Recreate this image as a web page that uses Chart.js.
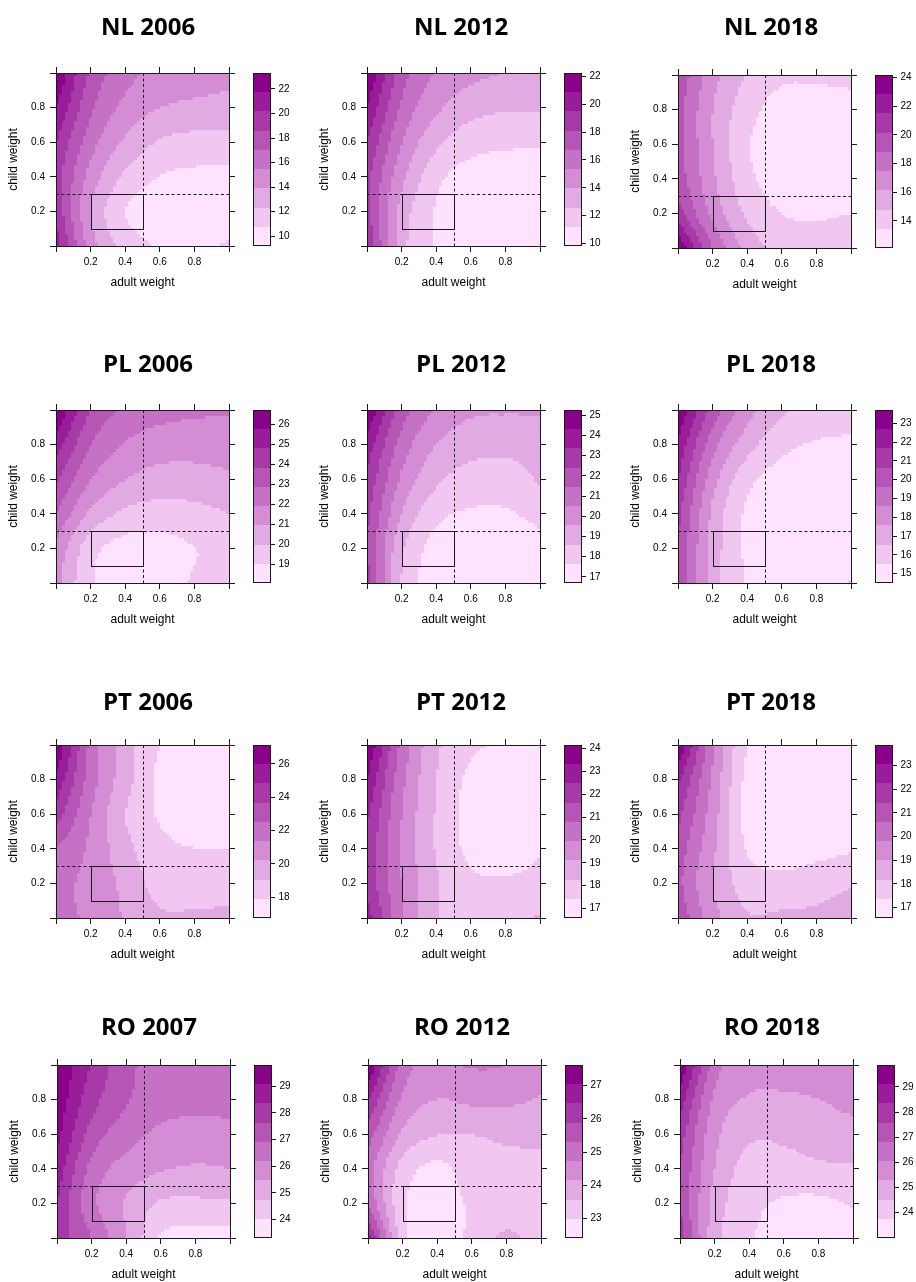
<!DOCTYPE html>
<html>
<head>
<meta charset="utf-8">
<script src="https://cdn.jsdelivr.net/npm/chart.js@4.4.1/dist/chart.umd.min.js"></script>
<style>
  html, body { margin: 0; padding: 0; background: #ffffff; overflow: hidden; width: 916px; height: 1282px; }
  canvas { position: absolute; }
</style>
</head>
<body>
<script>
// Weight grid shared by every surface: adult weight (x) and child weight (y)
const weightGrid = [0, 0.2, 0.4, 0.6, 0.8, 1.0];
const axisTicks = [0, 0.2, 0.4, 0.6, 0.8, 1.0];
const axisTickLabels = ['', '0.2', '0.4', '0.6', '0.8', ''];

// Reference cut-offs drawn on every panel
const cutAdult = 0.5;
const cutChild = 0.3;
const boxAdult = [0.2, 0.5];
const boxChild = [0.1, 0.3];

const panelTitles = ['NL 2006', 'NL 2012', 'NL 2018', 'PL 2006', 'PL 2012', 'PL 2018',
                     'PT 2006', 'PT 2012', 'PT 2018', 'RO 2007', 'RO 2012', 'RO 2018'];

// Surface values, one row per child weight (0 .. 1), columns by adult weight (0 .. 1)
const zNL2006 = [
  [20.96, 14.69, 11.72, 10.62, 10.15, 11.09],
  [19.86, 13.91, 10.78,  9.84,  9.52,  9.68],
  [19.39, 14.85, 12.03, 10.78, 10.46, 10.46],
  [20.17, 16.10, 13.59, 12.19, 11.72, 11.72],
  [21.74, 17.35, 15.00, 13.91, 13.59, 13.44],
  [23.30, 18.29, 16.10, 15.00, 14.53, 14.22]
];
const zNL2012 = [
  [19.48, 13.14, 11.07, 10.38, 10.11, 10.11],
  [18.52, 13.42, 11.07, 10.24,  9.97,  9.97],
  [18.52, 14.38, 11.62, 10.66, 10.38, 10.38],
  [19.48, 15.35, 12.86, 11.76, 11.48, 11.35],
  [20.86, 16.45, 14.24, 13.14, 12.73, 12.73],
  [22.24, 17.41, 15.21, 14.38, 13.97, 13.83]
];
const zNL2018 = [
  [24.19, 18.82, 15.73, 14.25, 13.98, 13.98],
  [20.83, 17.07, 14.52, 13.44, 13.31, 13.44],
  [19.62, 16.40, 13.85, 12.77, 12.64, 12.77],
  [19.35, 16.13, 13.58, 12.50, 12.37, 12.50],
  [19.35, 16.13, 13.98, 12.91, 12.77, 12.91],
  [19.89, 16.67, 14.65, 13.71, 13.71, 13.85]
];
const zPL2006 = [
  [21.24, 19.12, 18.45, 18.54, 19.12, 19.51],
  [21.72, 19.41, 18.64, 18.64, 19.02, 19.31],
  [22.88, 20.76, 19.80, 19.60, 19.70, 19.99],
  [24.04, 21.92, 20.95, 20.57, 20.57, 20.76],
  [25.29, 22.88, 21.82, 21.43, 21.34, 21.43],
  [26.74, 23.84, 22.69, 22.30, 22.11, 22.01]
];
const zPL2012 = [
  [22.88, 18.51, 17.18, 16.89, 16.89, 16.99],
  [22.41, 18.79, 17.27, 16.99, 16.99, 17.37],
  [22.69, 19.55, 17.94, 17.56, 17.56, 17.94],
  [23.17, 20.31, 18.79, 18.22, 18.13, 18.70],
  [23.93, 21.07, 19.55, 18.98, 18.89, 19.08],
  [25.26, 21.93, 20.41, 19.74, 19.65, 19.65]
];
const zPL2018 = [
  [20.64, 17.06, 15.42, 14.91, 15.01, 15.63],
  [20.64, 17.16, 15.32, 14.70, 14.70, 15.01],
  [20.94, 17.36, 15.32, 14.81, 14.60, 14.70],
  [21.66, 17.98, 15.83, 15.11, 14.81, 14.81],
  [22.48, 19.00, 16.96, 15.83, 15.42, 15.32],
  [23.71, 20.23, 17.98, 16.75, 16.24, 16.03]
];
const zPT2006 = [
  [21.71, 21.13, 20.09, 19.28, 19.28, 19.40],
  [21.71, 21.02, 19.86, 18.59, 18.36, 18.47],
  [22.52, 21.13, 19.40, 18.24, 17.90, 17.90],
  [24.25, 21.36, 19.05, 17.78, 17.20, 17.09],
  [25.76, 21.94, 19.51, 17.66, 16.97, 16.97],
  [27.14, 22.17, 19.63, 17.90, 17.20, 17.09]
];
const zPT2012 = [
  [22.90, 20.12, 18.35, 17.84, 17.93, 18.35],
  [22.31, 19.95, 18.35, 17.59, 17.51, 17.67],
  [22.31, 19.86, 18.18, 17.25, 17.09, 17.34],
  [22.64, 19.95, 18.18, 17.17, 16.83, 17.00],
  [23.32, 20.20, 18.26, 17.25, 16.92, 17.00],
  [24.16, 20.54, 18.43, 17.59, 17.34, 17.09]
];
const zPT2018 = [
  [21.27, 19.32, 18.27, 18.35, 18.43, 18.67],
  [20.86, 19.00, 17.78, 17.62, 17.78, 18.10],
  [21.11, 19.16, 17.29, 17.05, 17.13, 17.29],
  [21.68, 19.40, 17.05, 16.88, 16.72, 16.88],
  [22.41, 19.65, 17.13, 16.80, 16.64, 16.72],
  [23.87, 19.97, 17.37, 16.97, 16.80, 16.80]
];
const zRO2007 = [
  [28.07, 26.91, 25.47, 23.95, 23.66, 23.73],
  [28.35, 26.40, 25.39, 24.67, 24.60, 24.67],
  [28.79, 26.69, 25.90, 25.54, 25.39, 25.47],
  [29.29, 27.34, 26.48, 26.04, 25.90, 25.97],
  [29.58, 27.92, 26.98, 26.48, 26.40, 26.40],
  [29.80, 28.28, 27.13, 26.62, 26.55, 26.55]
];
const zRO2012 = [
  [26.76, 23.23, 22.71, 23.11, 23.69, 23.23],
  [25.31, 23.11, 22.77, 23.06, 23.23, 23.29],
  [25.02, 23.34, 22.88, 23.29, 23.40, 23.46],
  [25.60, 24.04, 23.58, 23.58, 23.69, 23.69],
  [26.47, 24.62, 24.15, 24.27, 24.27, 24.10],
  [27.62, 25.08, 24.62, 24.79, 24.73, 24.39]
];
const zRO2018 = [
  [27.96, 24.82, 23.83, 23.45, 23.30, 23.45],
  [27.57, 24.98, 23.98, 23.68, 23.60, 23.83],
  [27.57, 25.28, 24.21, 24.21, 24.37, 24.44],
  [27.96, 25.51, 24.67, 24.67, 24.90, 25.05],
  [28.72, 25.89, 25.21, 25.21, 25.28, 25.43],
  [29.87, 26.43, 25.59, 25.43, 25.43, 25.51]
];
const surfaces = [zNL2006, zNL2012, zNL2018, zPL2006, zPL2012, zPL2018,
                  zPT2006, zPT2012, zPT2018, zRO2007, zRO2012, zRO2018];

// Colour key range of each panel (nine equal bands between these limits)
const keyMin = [9.21, 9.83, 12.10, 18.06, 16.70, 14.50, 16.74, 16.58, 16.56, 23.30, 22.42, 22.99];
const keyMax = [23.30, 22.24, 24.19, 26.74, 25.26, 23.71, 27.14, 24.16, 23.87, 29.80, 27.62, 29.87];

// Colour key tick labels
const keyTicksNL2006 = [10, 12, 14, 16, 18, 20, 22];
const keyTicksNL2012 = [10, 12, 14, 16, 18, 20, 22];
const keyTicksNL2018 = [14, 16, 18, 20, 22, 24];
const keyTicksPL2006 = [19, 20, 21, 22, 23, 24, 25, 26];
const keyTicksPL2012 = [17, 18, 19, 20, 21, 22, 23, 24, 25];
const keyTicksPL2018 = [15, 16, 17, 18, 19, 20, 21, 22, 23];
const keyTicksPT2006 = [18, 20, 22, 24, 26];
const keyTicksPT2012 = [17, 18, 19, 20, 21, 22, 23, 24];
const keyTicksPT2018 = [17, 18, 19, 20, 21, 22, 23];
const keyTicksRO2007 = [24, 25, 26, 27, 28, 29];
const keyTicksRO2012 = [23, 24, 25, 26, 27];
const keyTicksRO2018 = [24, 25, 26, 27, 28, 29];
const keyTicks = [keyTicksNL2006, keyTicksNL2012, keyTicksNL2018, keyTicksPL2006, keyTicksPL2012, keyTicksPL2018,
                  keyTicksPT2006, keyTicksPT2012, keyTicksPT2018, keyTicksRO2007, keyTicksRO2012, keyTicksRO2018];

// Nine-step light pink to dark magenta ramp
const bandColors = ['#FFE2FF', '#F1C6F1', '#E2AAE2', '#D48DD4', '#C571C5', '#B755B7', '#A839A8', '#9A1C9A', '#8B008B'];

// Page placement: plot box corner (bx, by) and title centre (tx, ty)
const panelLayout = [
  { bx: 56,  by: 73,   tx: 148, ty: 28 },   { bx: 367, by: 73,   tx: 461, ty: 28 },   { bx: 678, by: 75,   tx: 771, ty: 28 },
  { bx: 56,  by: 410,  tx: 148, ty: 365 },  { bx: 367, by: 410,  tx: 461, ty: 365 },  { bx: 678, by: 410,  tx: 771, ty: 365 },
  { bx: 56,  by: 745,  tx: 148, ty: 703 },  { bx: 367, by: 745,  tx: 461, ty: 703 },  { bx: 678, by: 745,  tx: 771, ty: 703 },
  { bx: 57,  by: 1065, tx: 149, ty: 1028 }, { bx: 368, by: 1065, tx: 462, ty: 1028 }, { bx: 680, by: 1065, tx: 772, ty: 1028 }
];

const BOX = 173;          // plot box size
const LEFT_W = 56;        // y axis strip
const BOTTOM_H = 50;      // x axis strip
const TOP_H = 8;          // top tick strip
const RIGHT_W = 42;       // right tick strip + gap + colour key
const KEY_W = 18;         // colour key width
const CELLS = 58;         // drawing resolution of the surface
const INK = '#1a1a1a';

Chart.defaults.font.family = "'Liberation Sans', Arial, Helvetica, sans-serif";
Chart.defaults.color = '#000';

// Pad the grid with linear extrapolation so the cubic patches have neighbours at the edges
function padGrid(z) {
  const rows = z.map(r => [2 * r[0] - r[1], ...r, 2 * r[r.length - 1] - r[r.length - 2]]);
  const n = rows.length;
  const first = rows[0].map((v, i) => 2 * v - rows[1][i]);
  const last = rows[n - 1].map((v, i) => 2 * v - rows[n - 2][i]);
  return [first, ...rows, last];
}
function catmull(p0, p1, p2, p3, t) {
  return p1 + 0.5 * t * (p2 - p0 + t * (2 * p0 - 5 * p1 + 4 * p2 - p3 + t * (3 * (p1 - p2) + p3 - p0)));
}
function surfaceAt(pz, x, y) {
  const n = weightGrid.length - 1;
  const step = weightGrid[1] - weightGrid[0];
  const u = (x - weightGrid[0]) / step, v = (y - weightGrid[0]) / step;
  const i = Math.min(Math.floor(u), n - 1), j = Math.min(Math.floor(v), n - 1);
  const t = u - i, s = v - j;
  const col = [];
  for (let b = 0; b < 4; b++) {
    const r = pz[j + b];
    col.push(catmull(r[i], r[i + 1], r[i + 2], r[i + 3], t));
  }
  return catmull(col[0], col[1], col[2], col[3], s);
}

function makePanelPlugin(idx) {
  const pz = padGrid(surfaces[idx]);
  const lo = keyMin[idx], hi = keyMax[idx];
  const nb = bandColors.length;
  const bw = (hi - lo) / nb;
  const band = v => Math.max(0, Math.min(nb - 1, Math.floor((v - lo) / bw)));
  return {
    id: 'surface' + idx,
    beforeDraw(chart) {
      const { ctx, scales } = chart;
      const xs = scales.x, ys = scales.y, ks = scales.key;
      ctx.save();
      // filled level surface
      for (let a = 0; a < CELLS; a++) {
        const x0 = a / CELLS, x1 = (a + 1) / CELLS;
        const px0 = Math.round(xs.getPixelForValue(x0)), px1 = Math.round(xs.getPixelForValue(x1));
        for (let b = 0; b < CELLS; b++) {
          const y0 = b / CELLS, y1 = (b + 1) / CELLS;
          const py0 = Math.round(ys.getPixelForValue(y1)), py1 = Math.round(ys.getPixelForValue(y0));
          ctx.fillStyle = bandColors[band(surfaceAt(pz, (x0 + x1) / 2, (y0 + y1) / 2))];
          ctx.fillRect(px0, py0, px1 - px0, py1 - py0);
        }
      }
      // colour key
      const kr = Math.round(scales.y2.right), kl = kr - KEY_W;
      for (let k = 0; k < nb; k++) {
        const top = Math.round(ks.getPixelForValue(lo + (k + 1) * bw));
        const bot = Math.round(ks.getPixelForValue(lo + k * bw));
        ctx.fillStyle = bandColors[k];
        ctx.fillRect(kl, top, KEY_W, bot - top);
      }
      const kt = Math.round(ks.getPixelForValue(hi)), kb = Math.round(ks.getPixelForValue(lo));
      ctx.strokeStyle = INK;
      ctx.lineWidth = 1;
      ctx.strokeRect(kl + 0.5, kt + 0.5, KEY_W - 1, kb - kt - 1);
      ctx.restore();
    },
    afterDraw(chart) {
      const { ctx, scales, chartArea } = chart;
      const xs = scales.x, ys = scales.y;
      const crisp = p => Math.round(p) + 0.5;
      ctx.save();
      ctx.strokeStyle = INK;
      ctx.lineWidth = 1;
      ctx.setLineDash([3, 2.5]);
      ctx.beginPath();
      const vx = crisp(xs.getPixelForValue(cutAdult));
      ctx.moveTo(vx, chartArea.top);
      ctx.lineTo(vx, chartArea.bottom);
      const hy = crisp(ys.getPixelForValue(cutChild));
      ctx.moveTo(chartArea.left, hy);
      ctx.lineTo(chartArea.right, hy);
      ctx.stroke();
      ctx.setLineDash([]);
      const rx0 = crisp(xs.getPixelForValue(boxAdult[0])), rx1 = crisp(xs.getPixelForValue(boxAdult[1]));
      const ry0 = crisp(ys.getPixelForValue(boxChild[1])), ry1 = crisp(ys.getPixelForValue(boxChild[0]));
      ctx.strokeRect(rx0, ry0, rx1 - rx0, ry1 - ry0);
      ctx.restore();
    }
  };
}

function weightAxis(position, showLabels, titleText) {
  const horizontal = position === 'bottom' || position === 'top';
  const cfg = {
    type: 'linear',
    position: position,
    min: 0,
    max: 1,
    afterBuildTicks: s => { s.ticks = axisTicks.map(v => ({ value: v })); },
    ticks: {
      display: showLabels,
      autoSkip: false,
      maxRotation: 0,
      padding: horizontal ? 4 : 5,
      font: { size: 10 },
      color: '#000',
      callback: (v, i) => axisTickLabels[i]
    },
    grid: { display: true, drawOnChartArea: false, drawTicks: true, tickLength: 6, tickColor: INK, color: INK, lineWidth: 1 },
    border: { display: true, color: INK, width: 1 },
    afterFit: s => {
      if (position === 'bottom') s.height = BOTTOM_H;
      else if (position === 'top') s.height = TOP_H;
      else if (position === 'left') s.width = LEFT_W;
      else s.width = RIGHT_W;
      s.paddingLeft = s.paddingRight = s.paddingTop = s.paddingBottom = 0;
    }
  };
  if (titleText) {
    cfg.title = {
      display: true,
      text: titleText,
      color: '#000',
      font: { size: 12 },
      padding: horizontal ? { top: 0, bottom: 6.3 } : { top: 6.8, bottom: 0 }
    };
  }
  return cfg;
}

panelTitles.forEach((title, idx) => {
  const L = panelLayout[idx];
  const left = L.bx - LEFT_W;
  const top = L.ty - 16;
  const width = Math.round(2 * (L.tx - left));
  const height = (L.by - top) + BOX + BOTTOM_H;
  const keyW = width - LEFT_W - BOX - RIGHT_W;
  const titleFont = { family: "'Open Sans', 'Noto Sans', sans-serif", size: 24, weight: 'bold', lineHeight: 1.2 };
  const titleBottom = (L.by - top) - 1.6 - 24 * 1.2 - TOP_H;

  const canvas = document.createElement('canvas');
  canvas.width = width;
  canvas.height = height;
  canvas.style.left = left + 'px';
  canvas.style.top = top + 'px';
  canvas.style.width = width + 'px';
  canvas.style.height = height + 'px';
  document.body.appendChild(canvas);

  new Chart(canvas, {
    type: 'scatter',
    data: { datasets: [] },
    options: {
      responsive: false,
      animation: false,
      devicePixelRatio: 1,
      layout: { padding: 0 },
      plugins: {
        legend: { display: false },
        tooltip: { enabled: false },
        title: {
          display: true,
          text: title,
          color: '#000',
          font: titleFont,
          padding: { top: 1.6, bottom: titleBottom }
        }
      },
      scales: {
        x: weightAxis('bottom', true, 'adult weight'),
        y: weightAxis('left', true, 'child weight'),
        x2: weightAxis('top', false, null),
        y2: Object.assign(weightAxis('right', false, null), { weight: 1 }),
        key: {
          type: 'linear',
          axis: 'y',
          position: 'right',
          weight: 2,
          min: keyMin[idx],
          max: keyMax[idx],
          afterBuildTicks: s => { s.ticks = keyTicks[idx].map(v => ({ value: v })); },
          ticks: { autoSkip: false, padding: 3.5, font: { size: 10 }, color: '#000', callback: v => String(v) },
          grid: { display: true, drawOnChartArea: false, drawTicks: true, tickLength: 4, tickColor: INK, color: INK, lineWidth: 1 },
          border: { display: false },
          afterFit: s => {
            s.width = keyW;
            s.paddingLeft = s.paddingRight = s.paddingTop = s.paddingBottom = 0;
          }
        }
      }
    },
    plugins: [makePanelPlugin(idx)]
  });
});
</script>
</body>
</html>
